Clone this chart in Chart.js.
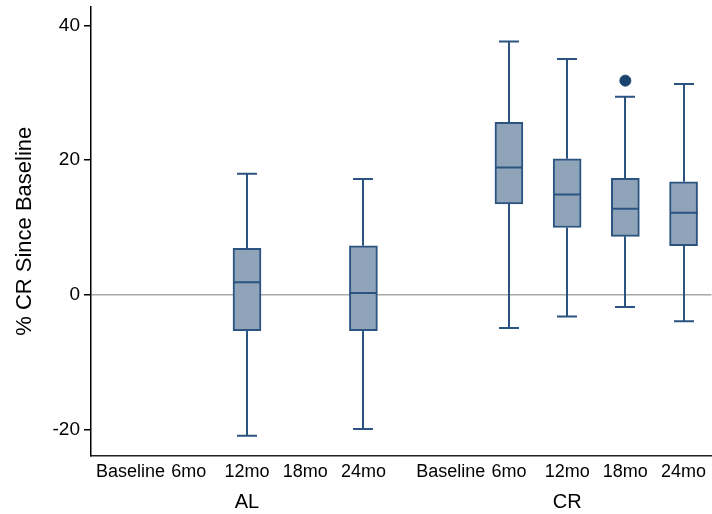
<!DOCTYPE html>
<html>
<head>
<meta charset="utf-8">
<script src="https://cdn.jsdelivr.net/npm/chart.js@4/dist/chart.umd.min.js"></script>
<style>
  html, body { margin: 0; padding: 0; background: #fff; }
  #wrap { width: 712px; height: 514px; overflow: hidden; }
  #chart { display: block; }
</style>
</head>
<body>
<div id="wrap"><canvas id="chart" width="718" height="514"></canvas></div>
<script>
// Box plot of % change since baseline, by arm and visit
const groups = ['AL', 'CR'];
const visits = ['Baseline', '6mo', '12mo', '18mo', '24mo'];
// x positions of each box (AL 0-4, CR 5.5-9.5, gap between arms)
const positions = [0, 1, 2, 3, 4, 5.5, 6.5, 7.5, 8.5, 9.5];
const groupCenters = [2, 7.5];

const whiskerLow  = [null, null, -20.9, null, -19.9, null, -4.9, -3.2, -1.8, -3.9];
const q1          = [null, null,  -5.3, null,  -5.3, null, 13.5, 10.0,  8.7,  7.3];
const median      = [null, null,   1.9, null,   0.3, null, 18.9, 14.9, 12.8, 12.2];
const q3          = [null, null,   6.9, null,   7.3, null, 25.6, 20.2, 17.3, 16.8];
const whiskerHigh = [null, null,  18.0, null,  17.2, null, 37.6, 35.0, 29.4, 31.3];
const outlierIndex = [8];
const outlierValue = [31.8];

const yTicks = [-20, 0, 20, 40];

const boxFill = '#8fa4b9';
const boxLine = '#2b5480';
const dotColor = '#1b4370';
const family = '"Liberation Sans", Arial, Helvetica, sans-serif';

const boxes = [];
positions.forEach((x, i) => {
  if (q1[i] != null) boxes.push({ x: x, y: [q1[i], q3[i]], i: i });
});
const dots = outlierIndex.map((i, k) => ({ x: positions[i], y: outlierValue[k] }));

// whiskers, caps and medians drawn on top of the floating bars
const boxWhiskers = {
  id: 'boxWhiskers',
  afterDatasetsDraw(chart) {
    const { ctx, scales: { x, y } } = chart;
    ctx.save();
    ctx.strokeStyle = boxLine;
    ctx.lineWidth = 2;
    boxes.forEach(b => {
      const i = b.i;
      const cx = Math.round(x.getPixelForValue(positions[i]));
      ctx.beginPath();
      ctx.moveTo(cx, y.getPixelForValue(q3[i]));
      ctx.lineTo(cx, y.getPixelForValue(whiskerHigh[i]));
      ctx.moveTo(cx, y.getPixelForValue(q1[i]));
      ctx.lineTo(cx, y.getPixelForValue(whiskerLow[i]));
      [whiskerHigh[i], whiskerLow[i]].forEach(v => {
        const py = y.getPixelForValue(v);
        ctx.moveTo(cx - 10, py);
        ctx.lineTo(cx + 10, py);
      });
      const my = y.getPixelForValue(median[i]);
      ctx.moveTo(cx - 14, my);
      ctx.lineTo(cx + 14, my);
      ctx.stroke();
    });
    ctx.restore();
  }
};

const noPad = s => { s.paddingLeft = 0; s.paddingRight = 0; s.paddingTop = 0; s.paddingBottom = 0; };

new Chart(document.getElementById('chart'), {
  data: {
    datasets: [
      {
        type: 'bar',
        data: boxes,
        backgroundColor: boxFill,
        borderColor: boxLine,
        borderWidth: 2,
        borderSkipped: false,
        barThickness: 28
      },
      {
        type: 'scatter',
        data: dots,
        pointRadius: 5.5,
        pointBackgroundColor: dotColor,
        pointBorderColor: dotColor
      }
    ]
  },
  options: {
    responsive: false,
    animation: false,
    layout: { padding: { top: 6, right: 0, left: 0, bottom: 0 } },
    plugins: { legend: { display: false }, tooltip: { enabled: false } },
    scales: {
      x: {
        type: 'linear',
        position: 'bottom',
        offset: false,
        min: -0.68,
        max: 9.98,
        afterBuildTicks: s => { s.ticks = positions.map(v => ({ value: v })); },
        afterFit: s => { s.height = 32; noPad(s); },
        ticks: {
          autoSkip: false,
          maxRotation: 0,
          padding: 5,
          color: '#000',
          font: { family: family, size: 18 },
          callback: (v, idx) => visits[idx % visits.length]
        },
        grid: { display: false, drawTicks: false },
        border: { display: true, color: '#222', width: 1.5 }
      },
      x2: {
        type: 'linear',
        position: 'bottom',
        offset: false,
        min: -0.68,
        max: 9.98,
        afterBuildTicks: s => { s.ticks = groupCenters.map(v => ({ value: v })); },
        afterFit: s => { s.height = 26; noPad(s); },
        ticks: {
          autoSkip: false,
          maxRotation: 0,
          padding: 2,
          color: '#000',
          font: { family: family, size: 20 },
          callback: (v, idx) => groups[idx]
        },
        grid: { display: false, drawTicks: false },
        border: { display: false }
      },
      y: {
        min: -23.9,
        max: 42.8,
        afterBuildTicks: s => { s.ticks = yTicks.map(v => ({ value: v })); },
        afterFit: s => { s.width = 91; noPad(s); },
        ticks: { color: '#000', font: { family: family, size: 19 }, padding: 4 },
        grid: {
          color: c => (c.tick && c.tick.value === 0 ? '#a8a8a8' : 'rgba(0,0,0,0)'),
          lineWidth: 1.5,
          drawTicks: true,
          tickLength: 7,
          tickColor: '#000'
        },
        border: { display: true, color: '#000', width: 1.5 },
        title: {
          display: true,
          text: '% CR Since Baseline',
          color: '#000',
          font: { family: family, size: 22 },
          padding: { top: 12, bottom: 0 }
        }
      }
    }
  },
  plugins: [boxWhiskers]
});
</script>
</body>
</html>
